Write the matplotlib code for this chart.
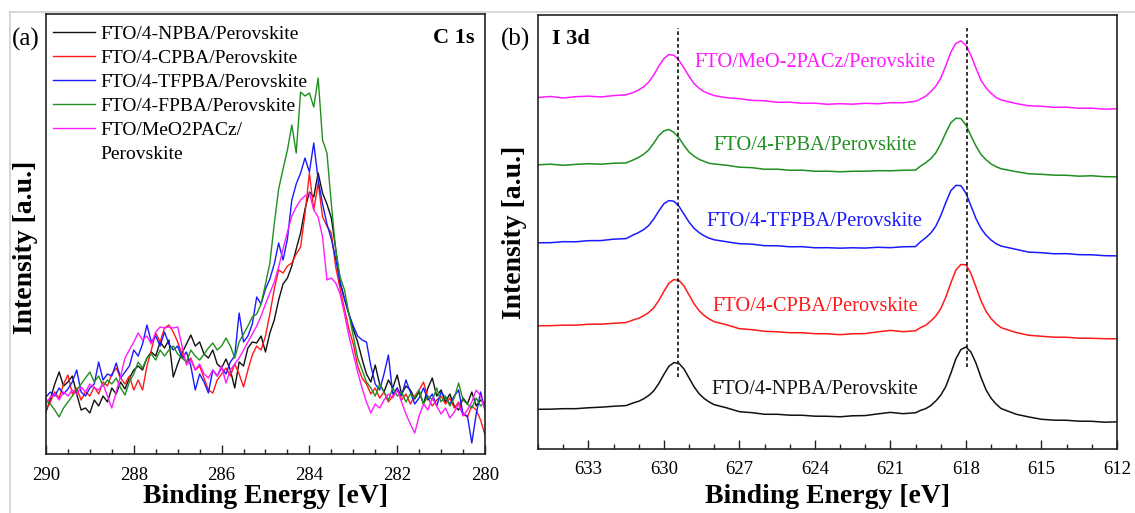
import numpy as np
import matplotlib.pyplot as plt
from matplotlib.lines import Line2D
from matplotlib.ticker import MultipleLocator

plt.rcParams['font.family'] = ['Liberation Serif', 'DejaVu Serif']

# (a) C 1s, 0.1 eV steps from 290 to 280 eV
c1s_energy = np.linspace(290, 280, 101)
c1s_labels = ['FTO/4-NPBA/Perovskite', 'FTO/4-CPBA/Perovskite', 'FTO/4-TFPBA/Perovskite',
              'FTO/4-FPBA/Perovskite', 'FTO/MeO2PACz/']
c1s_colors = ['#111111', '#ff1a1a', '#1a1aff', '#1f8f1f', '#ff1aff']

c1s_npba = [42, 55, 70, 82, 68, 72, 78, 60, 44, 46, 41,
            54, 48, 58, 52, 66, 60, 72, 65, 76, 84,
            88, 84, 96, 102, 98, 112, 106, 114, 77, 90,
            101, 110, 119, 108, 112, 100, 96, 104, 90, 86,
            95, 84, 66, 92, 88, 106, 112, 111, 118, 102,
            121, 134, 154, 170, 176, 188, 205, 221, 245, 262,
            257, 281, 261, 250, 236, 205, 172, 155, 140, 125,
            112, 95, 80, 72, 89, 70, 62, 74, 66, 79,
            60, 68, 64, 55, 62, 50, 66, 76, 58, 64,
            52, 60, 48, 44, 56, 50, 62, 48, 54, 50]
c1s_cpba = [44, 52, 62, 56, 70, 79, 60, 66, 54, 62, 58,
            67, 60, 72, 68, 80, 86, 76, 70, 78, 64,
            74, 64, 88, 104, 121, 112, 126, 129, 122, 112,
            100, 91, 96, 84, 88, 76, 64, 61, 74, 80,
            86, 78, 90, 80, 67, 84, 99, 108, 104, 118,
            140, 165, 184, 181, 188, 191, 200, 207, 240, 281,
            244, 271, 237, 228, 221, 187, 165, 145, 125, 110,
            88, 76, 70, 60, 66, 56, 62, 52, 58, 66,
            54, 60, 50, 58, 64, 72, 56, 48, 54, 58,
            50, 56, 46, 52, 40, 37, 48, 44, 34, 19]
c1s_tfpba = [57, 62, 58, 66, 60, 65, 72, 84, 62, 58, 66,
             70, 92, 74, 80, 78, 91, 76, 82, 88, 104,
             98, 110, 129, 112, 118, 108, 122, 110, 104, 108,
             96, 102, 88, 64, 80, 72, 61, 84, 78, 86,
             80, 92, 98, 141, 112, 118, 130, 157, 150, 165,
             175, 190, 211, 194, 215, 254, 270, 281, 296, 282,
             311, 274, 250, 230, 215, 195, 171, 155, 140, 128,
             118, 114, 112, 88, 70, 64, 80, 99, 60, 66,
             58, 74, 62, 50, 56, 66, 54, 60, 48, 62,
             56, 50, 58, 64, 40, 38, 11, 40, 62, 44]
c1s_fpba = [55, 50, 44, 37, 46, 52, 58, 64, 70, 76, 82,
            72, 78, 68, 74, 70, 76, 66, 59, 72, 80,
            92, 86, 96, 100, 94, 104, 98, 104, 108, 100,
            96, 92, 104, 98, 94, 100, 106, 111, 104, 108,
            116, 108, 96, 112, 120, 128, 137, 140, 150, 170,
            191, 230, 265, 285, 304, 329, 301, 362, 358, 361,
            347, 376, 314, 301, 250, 204, 177, 164, 140, 118,
            96, 84, 72, 66, 58, 70, 62, 54, 66, 58,
            62, 52, 60, 56, 64, 50, 58, 54, 66, 52,
            58, 48, 56, 71, 54, 50, 46, 56, 48, 52]
c1s_meo = [50, 57, 60, 54, 62, 58, 64, 60, 67, 62, 70,
           66, 64, 70, 58, 46, 62, 78, 96, 104, 112,
           121, 114, 118, 110, 122, 127, 126, 127, 126, 127,
           108, 89, 94, 84, 90, 80, 76, 84, 78, 88,
           71, 84, 90, 96, 104, 112, 120, 128, 138, 150,
           161, 172, 187, 205, 222, 238, 247, 254, 258, 261,
           244, 237, 217, 174, 176, 171, 160, 140, 118, 100,
           82, 66, 52, 41, 50, 46, 54, 60, 56, 64,
           52, 40, 30, 21, 38, 50, 44, 56, 48, 40,
           46, 36, 42, 50, 38, 44, 52, 64, 58, 44]
c1s_series = [c1s_npba, c1s_cpba, c1s_tfpba, c1s_fpba, c1s_meo]

# (b) I 3d, finer steps across the two peaks
i3d_energy = [635.0, 634.5, 634.0, 633.5, 633.0, 632.5, 632.0, 631.5,
              631.2, 631.0, 630.8, 630.6, 630.4, 630.2, 630.0, 629.8, 629.6,
              629.4, 629.2, 629.0, 628.8, 628.6, 628.4, 628.2, 628.0,
              627.5, 627.0, 626.5, 626.0, 625.5, 625.0, 624.5, 624.0,
              623.5, 623.0, 622.5, 622.0, 621.5, 621.0, 620.5, 620.0,
              619.8, 619.6, 619.4, 619.2, 619.0, 618.8, 618.6, 618.4, 618.2,
              618.0, 617.8, 617.6, 617.4, 617.2, 617.0, 616.8, 616.6,
              616.0, 615.5, 615.0, 614.5, 614.0, 613.5, 613.0, 612.5, 612.0]

i3d_npba = [39.7, 39.8, 40.3, 40.3, 41.2, 41.8, 42.7, 43.4,
            46.2, 47.7, 50.2, 53.5, 58.2, 65.5, 74.5, 82.7, 86.4,
            85.6, 80.0, 71.1, 62.2, 55.3, 50.5, 47.0, 44.3,
            41.1, 37.3, 36.3, 34.7, 34.7, 33.8, 33.7, 32.8,
            32.7, 32.2, 33.2, 33.4, 35.1, 36.6, 35.3, 36.2,
            38.6, 40.3, 43.3, 47.9, 53.8, 62.4, 75.6, 90.1, 99.4,
            102.0, 96.9, 85.8, 71.5, 59.1, 50.7, 44.9, 40.4,
            34.7, 32.0, 29.7, 28.8, 28.7, 27.8, 27.7, 26.8, 27.1]
i3d_cpba = [123.2, 123.3, 123.8, 123.8, 124.7, 124.8, 125.7, 126.4,
            129.2, 130.7, 133.2, 136.5, 141.2, 148.5, 157.5, 165.7, 169.4,
            168.6, 163.0, 154.1, 145.2, 138.3, 133.5, 130.0, 127.3,
            124.1, 120.3, 119.3, 117.7, 117.2, 116.3, 116.2, 115.3,
            115.2, 114.3, 115.2, 115.4, 117.1, 118.6, 117.3, 118.2,
            121.4, 123.7, 127.8, 132.9, 140.3, 151.8, 165.9, 178.8, 184.5,
            184.2, 175.5, 161.9, 148.2, 137.6, 130.4, 125.1, 121.3,
            116.4, 113.7, 112.7, 111.8, 111.7, 110.8, 110.7, 110.3, 110.2]
i3d_tfpba = [206.2, 206.3, 207.3, 207.2, 208.3, 208.4, 209.8, 210.4,
             214.2, 216.5, 219.4, 223.5, 230.0, 238.0, 245.2, 248.4, 247.7,
             242.7, 234.8, 226.9, 220.7, 216.4, 213.2, 210.8, 209.2,
             207.2, 205.3, 204.8, 203.3, 203.2, 202.2, 202.3, 201.2,
             201.3, 200.8, 201.2, 200.9, 201.7, 201.3, 202.2, 202.4,
             207.3, 211.1, 215.8, 222.6, 233.3, 246.4, 258.3, 263.6, 263.3,
             255.8, 243.1, 230.4, 220.5, 213.8, 208.9, 205.3, 202.9,
             199.6, 196.8, 196.3, 195.2, 195.3, 194.3, 194.2, 193.3, 193.1]
i3d_fpba = [284.2, 284.8, 283.7, 284.6, 285.3, 284.8, 285.7, 286.1,
            289.2, 291.6, 294.7, 299.1, 305.9, 313.4, 318.1, 319.5, 316.6,
            311.2, 303.5, 296.9, 292.8, 289.6, 287.6, 285.7, 285.0,
            283.7, 281.8, 281.3, 279.7, 279.8, 278.7, 278.8, 277.7,
            277.8, 277.2, 277.7, 277.8, 278.3, 278.2, 278.7, 278.9,
            283.0, 286.2, 290.2, 296.0, 305.0, 316.1, 326.2, 330.7, 330.4,
            324.1, 313.2, 302.9, 294.5, 289.2, 285.0, 282.3, 280.2,
            277.3, 275.2, 274.7, 273.8, 273.7, 272.8, 273.2, 272.3, 272.1]
i3d_meo = [351.5, 352.5, 351.0, 352.3, 352.8, 352.0, 353.4, 354.2,
           356.6, 359.1, 362.2, 366.9, 374.0, 382.8, 390.4, 394.4, 393.7,
           388.7, 380.9, 372.7, 365.4, 360.7, 357.3, 355.2, 353.4,
           351.2, 350.3, 348.6, 348.2, 346.7, 346.8, 345.7, 345.8,
           344.7, 345.3, 344.8, 345.7, 345.2, 346.3, 346.2, 347.7,
           350.0, 352.8, 357.2, 362.7, 370.8, 383.2, 396.8, 405.5, 408.0,
           403.7, 393.7, 380.7, 368.6, 361.1, 355.7, 351.4, 349.0,
           345.4, 343.2, 342.7, 341.7, 341.8, 340.7, 340.8, 339.8, 340.2]
i3d_series = [i3d_npba, i3d_cpba, i3d_tfpba, i3d_fpba, i3d_meo]
i3d_labels = ['FTO/4-NPBA/Perovskite', 'FTO/4-CPBA/Perovskite', 'FTO/4-TFPBA/Perovskite',
              'FTO/4-FPBA/Perovskite', 'FTO/MeO-2PACz/Perovskite']
i3d_colors = ['#111111', '#ff1a1a', '#1a1aff', '#1f8f1f', '#ff1aff']
i3d_label_y = [59, 142, 227, 303, 386]

# reference peak positions (I 3d5/2 and 3d3/2 of the NPBA film)
peak_lines = [629.45, 617.95]
peak_line_bottom = [72, 82]


def style_axis(ax):
    for s in ax.spines.values():
        s.set_linewidth(1.2)
        s.set_color('#222222')
    ax.tick_params(axis='x', which='both', direction='in', top=False, labelsize=13.5,
                   pad=9, width=1.0, color='#222222')
    ax.tick_params(axis='x', which='major', length=6.5)
    ax.tick_params(axis='x', which='minor', length=3.3)
    ax.tick_params(axis='y', which='both', left=False, labelleft=False)


fig = plt.figure(figsize=(11.35, 5.13), dpi=100)
ax1 = fig.add_axes([0.0405, 0.115, 0.3868, 0.8577])
ax2 = fig.add_axes([0.474, 0.1248, 0.5101, 0.846])

for y, lab, c in zip(c1s_series, c1s_labels, c1s_colors):
    ax1.plot(c1s_energy, y, color=c, lw=1.0, label=lab)
ax1.set_xlim(290, 280)
ax1.set_ylim(0, 440)
ax1.xaxis.set_major_locator(MultipleLocator(2))
ax1.xaxis.set_minor_locator(MultipleLocator(0.5))
style_axis(ax1)

# second line of the last label as its own row without a handle
handles, labels = ax1.get_legend_handles_labels()
handles.append(Line2D([], [], color='none'))
labels.append('Perovskite')
ax1.legend(handles, labels, frameon=False, loc='upper left', bbox_to_anchor=(0.016, 0.975),
           borderaxespad=0, borderpad=0, fontsize=14, handlelength=2.16,
           handletextpad=0.26, labelspacing=0.33)
ax1.text(0.977, 0.945, 'C 1s', transform=ax1.transAxes, ha='right', va='center',
         fontsize=16, fontweight='bold')
ax1.set_xlabel('Binding Energy [eV]', fontsize=20, fontweight='bold', va='center')
ax1.set_ylabel('Intensity [a.u.]', fontsize=20, fontweight='bold', va='center')
ax1.xaxis.set_label_coords(0.499, -0.097)
ax1.yaxis.set_label_coords(-0.046, 0.47)

for y, c in zip(i3d_series, i3d_colors):
    ax2.plot(i3d_energy, y, color=c, lw=1.1)
for lab, c, ly in zip(i3d_labels, i3d_colors, i3d_label_y):
    ax2.text(624.0, ly, lab, color=c, ha='center', va='center', fontsize=14.7)
for e, yb in zip(peak_lines, peak_line_bottom):
    ax2.plot([e, e], [yb, 421], color='#111111', lw=1.2, ls=(0, (2.2, 1.6)))
ax2.set_xlim(635, 612)
ax2.set_ylim(0, 434)
ax2.xaxis.set_major_locator(MultipleLocator(3))
ax2.xaxis.set_minor_locator(MultipleLocator(1))
style_axis(ax2)
ax2.text(0.024, 0.945, 'I 3d', transform=ax2.transAxes, ha='left', va='center',
         fontsize=16, fontweight='bold')
ax2.set_xlabel('Binding Energy [eV]', fontsize=20, fontweight='bold', va='center')
ax2.set_ylabel('Intensity [a.u.]', fontsize=20, fontweight='bold', va='center')
ax2.xaxis.set_label_coords(0.5, -0.11)
ax2.yaxis.set_label_coords(-0.04, 0.5)

fig.text(26 / 1135, 1 - 39 / 513, '(a)', ha='center', va='center', fontsize=18)
fig.text(516 / 1135, 1 - 39 / 513, '(b)', ha='center', va='center', fontsize=18)

# thin grey border along the top and left edge
fig.add_artist(Line2D([10 / 1135, 1], [1 - 12 / 513] * 2, color='#cfcfcf', lw=1.2))
fig.add_artist(Line2D([10 / 1135] * 2, [0, 1 - 12 / 513], color='#cfcfcf', lw=1.2))

fig.savefig('out.png', dpi=100)
